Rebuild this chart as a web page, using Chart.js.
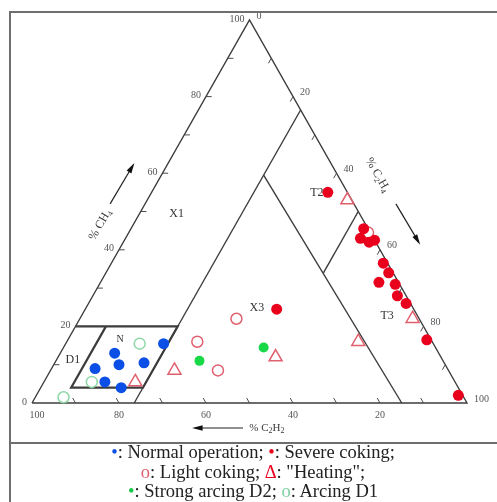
<!DOCTYPE html>
<html>
<head>
<meta charset="utf-8">
<script src="https://cdn.jsdelivr.net/npm/chart.js@4"></script>
<style>
  body { margin: 0; background: #fff; }
  #wrap { position: relative; width: 497px; height: 502px; overflow: hidden; }
  #c { position: absolute; left: 0; top: 0; }
  #frame { position: absolute; left: 9px; top: 11px; width: 492px; height: 500px; border: 2px solid #6e6e6e; box-sizing: border-box; }
  #sep { position: absolute; left: 9px; top: 442px; width: 492px; border-top: 2px solid #6e6e6e; }
  #legend { position: absolute; left: 10px; top: 443px; width: 486px; text-align: center;
            font: 18.5px "Liberation Serif", "Times New Roman", serif; line-height: 19.5px; color: #222; }
  .blue { color: #0b4fe6; } .red { color: #e8001c; } .pink { color: #e0606e; }
  .green { color: #18c848; } .lgreen { color: #7fd0a0; }
</style>
</head>
<body>
<div id="wrap">
  <canvas id="c" width="497" height="502"></canvas>
  <div id="frame"></div>
  <div id="sep"></div>
  <div id="legend">
    <div><span class="blue">•</span>: Normal operation; <span class="red">•</span>: Severe coking;</div>
    <div><span class="pink">o</span>: Light coking; <span class="red">Δ</span>: "Heating";</div>
    <div><span class="green">•</span>: Strong arcing D2; <span class="lgreen">o</span>: Arcing D1</div>
  </div>
</div>
<script>
// Gas readings as [CH4 %, C2H4 %, C2H2 %]
const normalOperation = [[15.5, 22.5, 62], [13, 12.5, 74.5], [10, 15, 75], [10.5, 20.5, 69], [9, 10, 81], [5.5, 14, 80.5], [4, 18.5, 77.5]];
const severeCoking = [[55, 40.5, 4.5], [24.5, 44, 31.5], [45.5, 53.5, 1], [43, 54, 3], [42, 56.5, 1.5], [42.5, 57.5, 0],
    [36.5, 62.5, 1], [34, 65, 1], [31.5, 64, 4.5], [31, 68, 1], [28, 70, 2], [26, 73, 1], [16.5, 82.5, 1], [2, 97, 1]];
const lightCoking = [[22, 36, 42], [16, 30, 54], [8.5, 38.5, 53], [44.5, 55, 0.5]];
const heating = [[5.5, 21, 73.5], [8.5, 28.5, 63], [12, 50, 38], [16, 67, 17], [22, 76.5, 1.5], [53, 46, 1]];
const strongArcingD2 = [[11, 33, 56], [14.5, 46, 39.5]];
const arcingD1 = [[15.5, 17, 67.5], [5.5, 11, 83.5], [1.5, 6.5, 92]];

// zone boundaries, same [CH4, C2H4, C2H2] order
const outline = [[0, 0, 100], [100, 0, 0], [0, 100, 0], [0, 0, 100]];
const lineD1 = [[0, 23.5, 76.5], [76.5, 23.5, 0]];
const lineX3 = [[59.5, 23.5, 17], [0, 85, 15]];
const lineT2T3 = [[50, 50, 0], [34, 50, 16]];
const zoneN = [[20, 0, 80], [20, 23.5, 56.5], [4, 23.5, 72.5], [4, 7, 89], [20, 7, 73]];

// axis tick labels
const ch4Ticks = [0, 20, 40, 60, 80, 100];
const c2h4Ticks = [0, 20, 40, 60, 80, 100];
const c2h2Ticks = [100, 80, 60, 40, 20];

// zone labels: [text, CH4, C2H4]
const zoneLabels = [['X1', 49.5, 8.5], ['X3', 24.8, 39.3], ['T2', 54.8, 38.1], ['T3', 22.7, 70.3], ['N', 16.7, 11.9], ['D1', 11.2, 3.8]];

// ternary -> cartesian (x along the base, y = CH4)
const toXY = r => ({ x: r[1] + r[0] / 2, y: r[0] });

function points(rows, style) {
    return Object.assign({ data: rows.map(toXY), showLine: false, clip: false, order: 0, borderWidth: 0 }, style);
}
function boundary(rows, width) {
    return { data: rows.map(toXY), showLine: true, pointRadius: 0, borderColor: '#3c3c3c',
             borderWidth: width, fill: false, tension: 0, clip: false, order: 10 };
}

function drawChem(ctx, parts, cx, cy, size) {
    // parts: [text, isSubscript]
    const big = size + 'px "Liberation Serif", serif';
    const small = Math.round(size * 0.7) + 'px "Liberation Serif", serif';
    let total = 0;
    parts.forEach(p => { ctx.font = p[1] ? small : big; total += ctx.measureText(p[0]).width; });
    let x = cx - total / 2;
    ctx.textAlign = 'left';
    ctx.textBaseline = 'middle';
    parts.forEach(p => {
        ctx.font = p[1] ? small : big;
        ctx.fillText(p[0], x, cy + (p[1] ? size * 0.3 : 0));
        x += ctx.measureText(p[0]).width;
    });
}

function arrow(ctx, x1, y1, x2, y2) {
    const ang = Math.atan2(y2 - y1, x2 - x1);
    ctx.beginPath();
    ctx.moveTo(x1, y1);
    ctx.lineTo(x2, y2);
    ctx.stroke();
    ctx.beginPath();
    ctx.moveTo(x2 + Math.cos(ang) * 3, y2 + Math.sin(ang) * 3);
    ctx.lineTo(x2 - Math.cos(ang - 0.35) * 8, y2 - Math.sin(ang - 0.35) * 8);
    ctx.lineTo(x2 - Math.cos(ang + 0.35) * 8, y2 - Math.sin(ang + 0.35) * 8);
    ctx.closePath();
    ctx.fill();
}

const ternaryDecor = {
    id: 'ternaryDecor',
    afterDraw(chart) {
        const ctx = chart.ctx;
        const xs = chart.scales.x, ys = chart.scales.y;
        const pt = (c, e) => ({ x: xs.getPixelForValue(e + c / 2), y: ys.getPixelForValue(c) });
        ctx.save();
        ctx.strokeStyle = '#4a4a4a';
        ctx.fillStyle = '#555';
        ctx.lineWidth = 1;

        // tick marks every 10 %
        for (let v = 10; v < 100; v += 10) {
            let p = pt(v, 0), q = pt(v, 1.3);
            ctx.beginPath(); ctx.moveTo(p.x, p.y); ctx.lineTo(q.x, q.y); ctx.stroke();
            p = pt(100 - v, v); q = pt(100 - v - 1.3, v);
            ctx.beginPath(); ctx.moveTo(p.x, p.y); ctx.lineTo(q.x, q.y); ctx.stroke();
            p = pt(0, 100 - v); q = pt(1.3, 100 - v - 1.3);
            ctx.beginPath(); ctx.moveTo(p.x, p.y); ctx.lineTo(q.x, q.y); ctx.stroke();
        }

        // tick labels
        ctx.font = '10px "Liberation Serif", serif';
        ctx.textBaseline = 'middle';
        ctx.textAlign = 'right';
        ch4Ticks.forEach(v => { const p = pt(v, 0); ctx.fillText(String(v), p.x - 5, p.y - 1); });
        ctx.textAlign = 'left';
        c2h4Ticks.forEach(v => { const p = pt(100 - v, v); ctx.fillText(String(v), p.x + 7, p.y - 4); });
        ctx.textAlign = 'center';
        c2h2Ticks.forEach(v => { const p = pt(0, 100 - v); ctx.fillText(String(v), p.x + (v === 100 ? 5 : 0), p.y + 12); });

        // axis titles with arrows
        ctx.fillStyle = '#3a3a3a';
        ctx.strokeStyle = '#222';
        ctx.lineWidth = 1.2;
        const bl = pt(0, 0), top = pt(100, 0), br = pt(0, 100);
        const leftAng = Math.atan2(top.y - bl.y, top.x - bl.x);
        const rightAng = Math.atan2(br.y - top.y, br.x - top.x);

        let p = pt(46.5, 0);
        ctx.save(); ctx.translate(p.x - 33, p.y); ctx.rotate(leftAng);
        drawChem(ctx, [['% CH', 0], ['4', 1]], 0, 0, 12);
        ctx.restore();
        ctx.fillStyle = '#111';
        let a1 = pt(52, 0), a2 = pt(62, 0);
        arrow(ctx, a1.x - 35, a1.y, a2.x - 34, a2.y);

        ctx.fillStyle = '#3a3a3a';
        p = pt(59.5, 40.5);
        ctx.save(); ctx.translate(p.x + 40, p.y); ctx.rotate(rightAng);
        drawChem(ctx, [['% C', 0], ['2', 1], ['H', 0], ['4', 1]], 0, 0, 12);
        ctx.restore();
        ctx.fillStyle = '#111';
        a1 = pt(52, 48); a2 = pt(42, 58);
        arrow(ctx, a1.x + 42, a1.y, a2.x + 43, a2.y);

        ctx.fillStyle = '#3a3a3a';
        p = pt(0, 54);
        drawChem(ctx, [['% C', 0], ['2', 1], ['H', 0], ['2', 1]], p.x, p.y + 25, 11);
        ctx.fillStyle = '#111';
        a1 = pt(0, 48.5); a2 = pt(0, 37.5);
        arrow(ctx, a1.x, a1.y + 25, a2.x, a2.y + 25);

        // zone labels
        ctx.fillStyle = '#333';
        ctx.textAlign = 'center';
        ctx.textBaseline = 'middle';
        zoneLabels.forEach(l => {
            const q = pt(l[1], l[2]);
            ctx.font = (l[0] === 'N' ? 10 : 12) + 'px "Liberation Serif", serif';
            ctx.fillText(l[0], q.x, q.y);
        });
        ctx.restore();
    }
};

new Chart(document.getElementById('c'), {
    type: 'scatter',
    data: {
        datasets: [
            points(normalOperation, { pointRadius: 5.5, backgroundColor: '#0b4fe6' }),
            points(severeCoking, { pointRadius: 5.5, backgroundColor: '#e8001c' }),
            points(strongArcingD2, { pointRadius: 5, backgroundColor: '#18d848' }),
            points(lightCoking, { pointRadius: 5.5, backgroundColor: '#fff', borderColor: '#e0606e', borderWidth: 1.5 }),
            points(arcingD1, { pointRadius: 5.5, backgroundColor: '#fff', borderColor: '#8fd8a8', borderWidth: 1.5 }),
            points(heating, { pointStyle: 'triangle', pointRadius: 7.5, backgroundColor: 'rgba(255,255,255,0)', borderColor: '#e0606e', borderWidth: 1.5 }),
            boundary(outline, 1.4),
            boundary(lineD1, 1.4),
            boundary(lineX3, 1.4),
            boundary(lineT2T3, 1.4),
            boundary(zoneN, 2.2)
        ]
    },
    options: {
        responsive: false,
        animation: false,
        layout: { padding: { left: 32, right: 30, top: 20, bottom: 99 } },
        plugins: { legend: { display: false }, tooltip: { enabled: false } },
        scales: {
            x: { type: 'linear', min: 0, max: 100, display: false },
            y: { type: 'linear', min: 0, max: 100, display: false }
        }
    },
    plugins: [ternaryDecor]
});
</script>
</body>
</html>
